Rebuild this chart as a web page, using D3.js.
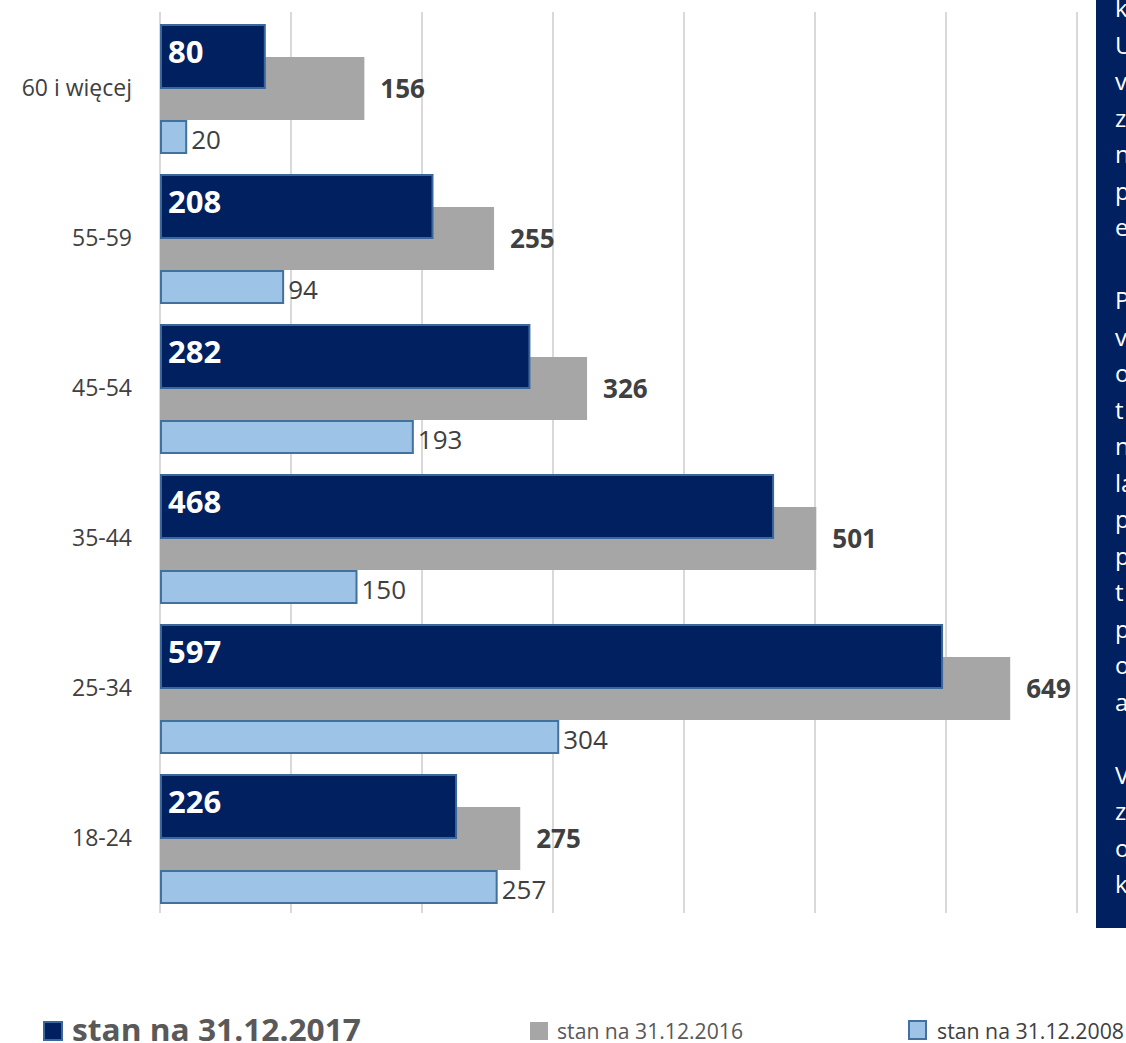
<!DOCTYPE html>
<html><head><meta charset="utf-8">
<script src="https://cdn.jsdelivr.net/npm/d3@7"></script>
<style>body{margin:0;background:#fff}svg{display:block}text{font-family:"Open Sans",sans-serif}</style>
</head><body>
<svg id="c" width="1126" height="1043"></svg>
<script>
const categories = ["60 i więcej","55-59","45-54","35-44","25-34","18-24"];
const values2017 = [80,208,282,468,597,226];
const values2016 = [156,255,326,501,649,275];
const values2008 = [20,94,193,150,304,257];
const seriesNames = ["stan na 31.12.2017","stan na 31.12.2016","stan na 31.12.2008"];
const xTicks = [0,100,200,300,400,500,600,700];
const panelLetters = ["k","U","v","z","n","p","e","","P","v","o","t","n","la","p","p","t","p","o","a","","V","z","o","k"];

const svg = d3.select("#c");
const x = d3.scaleLinear().domain([0,700]).range([160,1077]);
const y = d3.scaleBand().domain(categories).range([12,912]).padding(0);
const bw = y.bandwidth();
const C17="#002060", C16="#a6a6a6", C08="#9dc3e6";

// gridlines
svg.append("g").selectAll("line").data(xTicks).join("line")
  .attr("x1",d=>x(d)).attr("x2",d=>x(d)).attr("y1",12).attr("y2",913)
  .attr("stroke","#d9d9d9").attr("stroke-width",2);

// gray 2016
svg.append("g").selectAll("rect").data(categories).join("rect")
  .attr("x",x(0)).attr("y",d=>y(d)+bw*45/150).attr("width",(d,i)=>x(values2016[i])-x(0)).attr("height",bw*63/150)
  .attr("fill",C16);
// dark 2017
svg.append("g").selectAll("rect").data(categories).join("rect")
  .attr("x",x(0)+1).attr("y",d=>y(d)+bw*13/150).attr("width",(d,i)=>x(values2017[i])-x(0)-1).attr("height",bw*63/150)
  .attr("fill",C17).attr("stroke","#3a679c").attr("stroke-width",2);
// light 2008
svg.append("g").selectAll("rect").data(categories).join("rect")
  .attr("x",x(0)+1).attr("y",d=>y(d)+bw*109/150).attr("width",(d,i)=>x(values2008[i])-x(0)-1).attr("height",bw*32/150)
  .attr("fill",C08).attr("stroke","#41719c").attr("stroke-width",2);

// labels
svg.append("g").selectAll("text").data(categories).join("text")
  .attr("x",168).attr("y",d=>y(d)+bw*13/150+38).text((d,i)=>values2017[i])
  .attr("fill","#fff").attr("font-weight",700).attr("font-size",31);
svg.append("g").selectAll("text").data(categories).join("text")
  .attr("x",(d,i)=>x(values2016[i])+16).attr("y",d=>y(d)+bw*45/150+41).text((d,i)=>values2016[i])
  .attr("fill","#404040").attr("font-weight",700).attr("font-size",26);
svg.append("g").selectAll("text").data(categories).join("text")
  .attr("x",(d,i)=>x(values2008[i])+5).attr("y",d=>y(d)+bw*109/150+28).text((d,i)=>values2008[i])
  .attr("fill","#404040").attr("font-size",26);

// category axis labels
svg.append("g").selectAll("text").data(categories).join("text")
  .attr("x",132).attr("y",d=>y(d)+bw/2+9).attr("text-anchor","end").text(d=>d)
  .attr("fill","#404040").attr("font-size",23);

// side panel
svg.append("rect").attr("x",1096).attr("y",0).attr("width",30).attr("height",928).attr("fill",C17);
svg.append("g").selectAll("text").data(panelLetters).join("text")
  .attr("x",1115).attr("y",(d,i)=>8+36.5*i+9).text(d=>d)
  .attr("fill","#fff").attr("font-size",24);

// legend
const lg = svg.append("g");
lg.append("rect").attr("x",44).attr("y",1022).attr("width",18).attr("height",18).attr("fill",C17).attr("stroke","#3a679c").attr("stroke-width",2);
lg.append("text").attr("x",72).attr("y",1041).text(seriesNames[0]).attr("font-weight",700).attr("font-size",31)
  .attr("fill","#595959").attr("textLength",289).attr("lengthAdjust","spacingAndGlyphs");
lg.append("rect").attr("x",530).attr("y",1022).attr("width",18).attr("height",18).attr("fill",C16);
lg.append("text").attr("x",557).attr("y",1039).text(seriesNames[1]).attr("font-size",21)
  .attr("fill","#595959").attr("textLength",186).attr("lengthAdjust","spacingAndGlyphs");
lg.append("rect").attr("x",909).attr("y",1021).attr("width",17).attr("height",18).attr("fill",C08).attr("stroke","#41719c").attr("stroke-width",2);
lg.append("text").attr("x",937).attr("y",1039).text(seriesNames[2]).attr("font-size",21)
  .attr("fill","#404040").attr("textLength",187).attr("lengthAdjust","spacingAndGlyphs");
</script>
</body></html>
